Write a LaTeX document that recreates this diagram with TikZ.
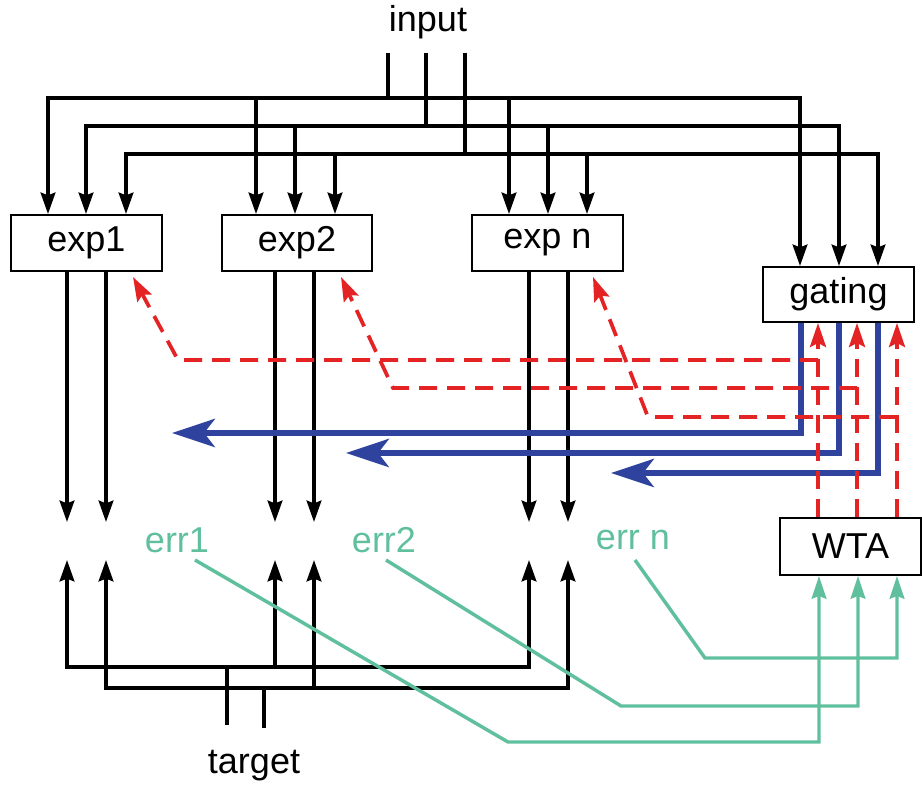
\documentclass[tikz,border=0pt]{standalone}
\usepackage{fontspec}
\setmainfont{Liberation Sans}
\usetikzlibrary{arrows.meta}
\definecolor{myred}{RGB}{228,36,36}
\definecolor{myblue}{RGB}{46,66,158}
\definecolor{mygreen}{RGB}{96,192,158}
\tikzset{
  box/.style={draw=black,line width=1.5pt,fill=white,inner sep=0pt,font=\fontsize{27}{32}\selectfont},
  lbl/.style={inner sep=0pt,font=\fontsize{27}{32}\selectfont},
  blk/.style={draw=black,line width=2.6pt,-{Stealth[length=16pt,width=11pt,inset=2pt]}},
  rd/.style={draw=myred,line width=2.8pt,dash pattern=on 13.5pt off 7.5pt,-{Stealth[length=18pt,width=12pt,inset=3pt]}},
  blu/.style={draw=myblue,line width=5pt,-{Stealth[length=32pt,width=21pt,inset=8pt]}},
  grn/.style={draw=mygreen,line width=2.6pt,-{Stealth[length=17pt,width=11pt,inset=2pt]}},
}
\begin{document}
\begin{tikzpicture}[x=0.75pt,y=-0.75pt]
\useasboundingbox (0,0) rectangle (922,787);
% boxes
\node[box,minimum width=113.25pt,minimum height=42pt] (exp1) at (86.5,243) {exp1};
\node[box,minimum width=112.5pt,minimum height=42pt] (exp2) at (297,243) {exp2};
\node[box,minimum width=113.25pt,minimum height=42pt] (expn) at (547.5,243) {exp n};
\node[box,minimum width=113.25pt,minimum height=41.25pt] (gating) at (838.5,294.5) {gating};
\node[box,minimum width=105.75pt,minimum height=42.75pt] (wta) at (850.5,546.5) {WTA};
% labels
\node[lbl] (input) at (428,22) {input};
\node[lbl] (target) at (254,766) {target};
\node[lbl,text=mygreen] (err1) at (177,540) {err1};
\node[lbl,text=mygreen] (err2) at (384,540) {err2};
\node[lbl,text=mygreen] (errn) at (633,540) {err n};
% input lines
\coordinate (i1) at (388,53);
\coordinate (i2) at (426,53);
\coordinate (i3) at (465,53);
% level 1 (y=98)
\coordinate (a1) at (48,98);   \coordinate (b1) at (256,98);
\coordinate (c1) at (509,98);  \coordinate (g1) at (800,98);
% level 2 (y=126)
\coordinate (a2) at (86,126);  \coordinate (b2) at (295,126);
\coordinate (c2) at (548,126); \coordinate (g2) at (839,126);
% level 3 (y=154)
\coordinate (a3) at (126,154); \coordinate (b3) at (335,154);
\coordinate (c3) at (587,154); \coordinate (g3) at (878,154);
\draw[blk] (i1) |- (a1) -- (a1 |- exp1.north);
\draw[blk] (i1) |- (g1) -- (g1 |- gating.north);
\draw[blk] (b1) -- (b1 |- exp2.north);
\draw[blk] (c1) -- (c1 |- expn.north);
\draw[blk] (i2) |- (a2) -- (a2 |- exp1.north);
\draw[blk] (i2) |- (g2) -- (g2 |- gating.north);
\draw[blk] (b2) -- (b2 |- exp2.north);
\draw[blk] (c2) -- (c2 |- expn.north);
\draw[blk] (i3) |- (a3) -- (a3 |- exp1.north);
\draw[blk] (i3) |- (g3) -- (g3 |- gating.north);
\draw[blk] (b3) -- (b3 |- exp2.north);
\draw[blk] (c3) -- (c3 |- expn.north);
% expert outputs
\coordinate (o11) at (67,522);  \coordinate (o12) at (106,522);
\coordinate (o21) at (275,522); \coordinate (o22) at (314,522);
\coordinate (o31) at (529,522); \coordinate (o32) at (568,522);
\foreach \o in {o11,o12} \draw[blk] (exp1.south -| \o) -- (\o);
\foreach \o in {o21,o22} \draw[blk] (exp2.south -| \o) -- (\o);
\foreach \o in {o31,o32} \draw[blk] (expn.south -| \o) -- (\o);
% target lines
\coordinate (tg1) at (227,725);
\coordinate (tg2) at (264,728);
\coordinate (u11) at (67,667);  \coordinate (v11) at (67,560);
\coordinate (u21) at (275,667); \coordinate (v21) at (275,560);
\coordinate (u31) at (529,667); \coordinate (v31) at (529,560);
\coordinate (u12) at (106,688); \coordinate (v12) at (106,560);
\coordinate (u22) at (314,688); \coordinate (v22) at (314,560);
\coordinate (u32) at (568,688); \coordinate (v32) at (568,560);
\draw[blk] (tg1) |- (u11) -- (v11);
\draw[blk] (tg1) |- (u31) -- (v31);
\draw[blk] (u21) -- (v21);
\draw[blk] (tg2) |- (u12) -- (v12);
\draw[blk] (tg2) |- (u32) -- (v32);
\draw[blk] (u22) -- (v22);
% blue gating outputs
\coordinate (q1) at (801,433); \coordinate (p1) at (172,433);
\coordinate (q2) at (839,453); \coordinate (p2) at (346,453);
\coordinate (q3) at (878,473); \coordinate (p3) at (611,473);
\draw[blu] (gating.south -| q1) -- (q1) -- (p1);
\draw[blu] (gating.south -| q2) -- (q2) -- (p2);
\draw[blu] (gating.south -| q3) -- (q3) -- (p3);
% red dashed WTA feedback
\coordinate (r1) at (818,360); \coordinate (s1) at (178,360); \coordinate (t1) at (133,277);
\coordinate (r2) at (857,388); \coordinate (s2) at (393,388); \coordinate (t2) at (341,277);
\coordinate (r3) at (897,417); \coordinate (s3) at (648,417); \coordinate (t3) at (593,277);
\draw[rd] (wta.north -| r1) -- (gating.south -| r1);
\draw[rd] (wta.north -| r2) -- (gating.south -| r2);
\draw[rd] (wta.north -| r3) -- (gating.south -| r3);
\draw[rd] (r1) -- (s1) -- (t1);
\draw[rd] (r2) -- (s2) -- (t2);
\draw[rd] (r3) -- (s3) -- (t3);
% green error lines
\coordinate (e1) at (195,560); \coordinate (k1) at (508,742); \coordinate (m1) at (819,742);
\coordinate (e2) at (386,560); \coordinate (k2) at (621,706); \coordinate (m2) at (858,706);
\coordinate (e3) at (635,560); \coordinate (k3) at (705,658); \coordinate (m3) at (897,658);
\draw[grn] (e1) -- (k1) -- (m1) -- (m1 |- wta.south);
\draw[grn] (e2) -- (k2) -- (m2) -- (m2 |- wta.south);
\draw[grn] (e3) -- (k3) -- (m3) -- (m3 |- wta.south);
\end{tikzpicture}
\end{document}
